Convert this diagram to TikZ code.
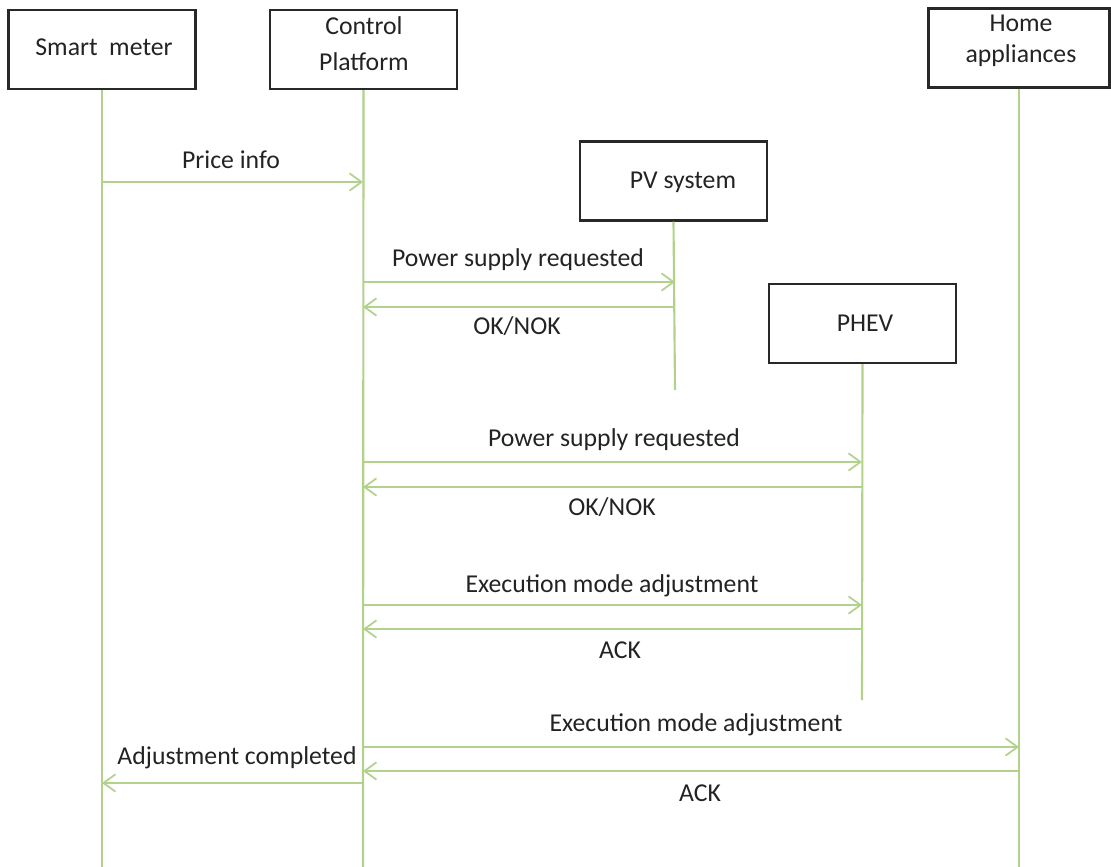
\documentclass[tikz,border=0pt]{standalone}
\usepackage{fontspec}
\setmainfont{Carlito}
\usetikzlibrary{arrows.meta}
\definecolor{lifegreen}{RGB}{178,210,140}
\definecolor{boxline}{RGB}{40,40,40}
\definecolor{txt}{RGB}{35,35,35}
\tikzset{
  actor/.style={draw=boxline,line width=1.8pt,minimum width=140pt,minimum height=59pt,inner sep=0pt},
  lifeline/.style={draw=lifegreen,line width=1.6pt},
  msg/.style={draw=lifegreen,line width=1.5pt,-{Straight Barb[length=9pt,width=13pt,line width=1.3pt]}},
  lbl/.style={text=txt,font=\fontsize{19.3}{23}\selectfont,inner sep=0pt,align=center},
}
\begin{document}
\begin{tikzpicture}[x=0.75pt,y=-0.75pt]
\useasboundingbox (0,0) rectangle (1111,867);
% actors
\node[actor] (sm) at (102,49.5) {};
\node[actor] (cp) at (363.5,49.5) {};
\node[actor,minimum width=136pt] (ha) at (1019,48) {};
\node[actor] (pv) at (673.5,181) {};
\node[actor] (ph) at (862.5,323.5) {};
\node[lbl] (smt) at (104,47) {Smart\hspace{0.45em}meter};
\node[lbl,font=\fontsize{19.3}{27}\selectfont] (cpt) at (364,44) {Control\\Platform};
\node[lbl,font=\fontsize{19.3}{23.5}\selectfont] (hat) at (1021,41) {Home\\appliances};
\node[lbl] (pvt) at (683,182) {PV system};
\node[lbl] (pht) at (865,323) {PHEV};
% lifeline ends
\coordinate (smE) at (102,867);
\coordinate (cpE) at (363,867);
\coordinate (haE) at (1019,867);
\coordinate (pvE) at (675,390);
\coordinate (phE) at (862,700);
\draw[lifeline] (sm.south) -- (smE);
\draw[lifeline] (cp.south) -- (cpE);
\draw[lifeline] (ha.south) -- (haE);
\draw[lifeline] (pv.south) -- (pvE);
\draw[lifeline] (ph.south) -- (phE);
% message end points
\coordinate (m1a) at (102,182);   \coordinate (m1b) at (363,182);
\coordinate (m2a) at (363,282);   \coordinate (m2b) at (675,282);
\coordinate (m3a) at (675,307);   \coordinate (m3b) at (363,307);
\coordinate (m4a) at (363,462);   \coordinate (m4b) at (862,462);
\coordinate (m5a) at (862,487);   \coordinate (m5b) at (363,487);
\coordinate (m6a) at (363,605);   \coordinate (m6b) at (862,605);
\coordinate (m7a) at (862,629);   \coordinate (m7b) at (363,629);
\coordinate (m8a) at (363,747);   \coordinate (m8b) at (1019,747);
\coordinate (m9a) at (1019,771);  \coordinate (m9b) at (363,771);
\coordinate (m10a) at (363,783);  \coordinate (m10b) at (102,783);
\draw[msg] (m1a) -- (m1b);
\draw[msg] (m2a) -- (m2b);
\draw[msg] (m3a) -- (m3b);
\draw[msg] (m4a) -- (m4b);
\draw[msg] (m5a) -- (m5b);
\draw[msg] (m6a) -- (m6b);
\draw[msg] (m7a) -- (m7b);
\draw[msg] (m8a) -- (m8b);
\draw[msg] (m9a) -- (m9b);
\draw[msg] (m10a) -- (m10b);
% labels
\node[lbl] (l1) at (231,160) {Price info};
\node[lbl] (l2) at (518,260) {Power supply requested};
\node[lbl] (l3) at (517,326) {OK/NOK};
\node[lbl] (l4) at (614,440) {Power supply requested};
\node[lbl] (l5) at (612,507) {OK/NOK};
\node[lbl] (l6) at (612,586) {Execution mode adjustment};
\node[lbl] (l7) at (620,650) {ACK};
\node[lbl] (l8) at (696,725) {Execution mode adjustment};
\node[lbl] (l9) at (700,793) {ACK};
\node[lbl] (l10) at (237,758) {Adjustment completed};
\end{tikzpicture}
\end{document}
